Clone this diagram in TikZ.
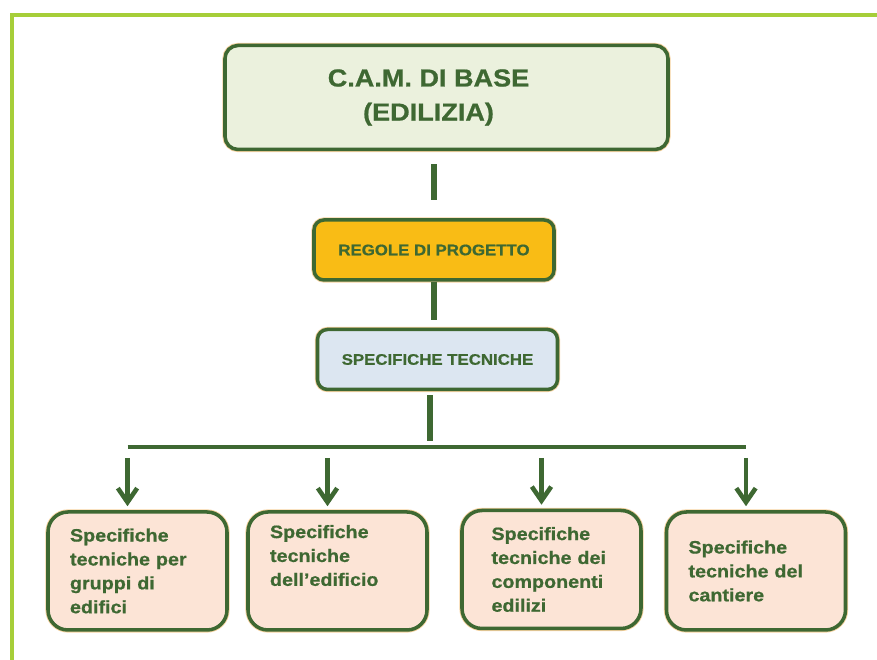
\documentclass[tikz,border=0pt]{standalone}
\usepackage{fontspec}
\setmainfont{Liberation Sans}[FakeStretch=1.1, BoldFeatures={FakeBold=0.8}]
\usepackage{tikz}
\usetikzlibrary{arrows.meta,positioning,calc}

\definecolor{camgreen}{RGB}{62,104,50}
\definecolor{camframe}{RGB}{166,206,57}
\definecolor{camtop}{RGB}{235,241,221}
\definecolor{camorange}{RGB}{249,188,21}
\definecolor{camblue}{RGB}{220,230,241}
\definecolor{campeach}{RGB}{252,228,214}
\definecolor{camhalo}{RGB}{246,210,160}

\begin{document}
\begin{tikzpicture}[
    base/.style={draw=camgreen, line width=2pt, text=camgreen, preaction={draw=camhalo, line width=3pt}},
    cam/.style={base, fill=camtop, rounded corners=0.26cm, minimum width=8.86cm, minimum height=2.08cm, align=center, font=\fontsize{14}{19.4}\selectfont\bfseries},
    rule/.style={base, fill=camorange, rounded corners=0.2cm, minimum width=4.8cm, minimum height=1.2cm, font=\fontsize{8.7}{10}\selectfont\bfseries},
    spec/.style={rule, fill=camblue},
    leaf/.style={base, fill=campeach, rounded corners=0.4cm, minimum width=3.58cm, minimum height=2.36cm, text width=2.7cm, align=left, font=\fontsize{10.2}{13.6}\selectfont\bfseries},
    bar/.style={draw=camgreen, line width=3.4pt},
    bus/.style={draw=camgreen, line width=2.3pt},
    down/.style={draw=camgreen, line width=2.6pt, -{Straight Barb[length=8pt,width=11pt]}}
    ]
    %cadre
    \useasboundingbox (0,0) rectangle (17.54,13.2);
    \draw[camframe, line width=2pt] (0.24,0) -- (0.24,12.9) -- (17.54,12.9);

    \node[cam] (cam)              at (8.93,11.25) {\hspace*{-0.72cm}C.A.M. DI BASE\\\hspace*{-0.72cm}(EDILIZIA)};
    \node[rule] (regole)          at (8.68,8.2)   {REGOLE DI PROGETTO};
    \node[spec] (spec)            at (8.75,6.01)  {SPECIFICHE TECNICHE};
    \coordinate (hub)             at (8.6,4.26);
    \node[leaf] (gruppi)          at (2.75,1.78)  {Specifiche\\tecniche per\\gruppi di\\edifici};
    \node[leaf] (edificio)        at (6.75,1.78)  {Specifiche\\tecniche\\dell’edificio\\\strut};
    \node[leaf,text width=2.4cm] (componenti) at (11.03,1.81) {Specifiche\\tecniche dei\\componenti\\edilizi};
    \node[leaf] (cantiere)        at (15.12,1.78) {Specifiche\\tecniche del\\cantiere};

    \path (cam.south -| regole) edge [bar, shorten <=0.26cm, shorten >=0.36cm] (regole.north);
    \path (regole.south) edge [bar, shorten >=0.16cm] (regole.south |- spec.north);
    \path (spec.south -| hub) edge [bar, shorten <=0.08cm, shorten >=0.12cm] (hub);
    \draw[bus] ([xshift=-2mm]gruppi.north |- hub) -- ([xshift=-2mm]cantiere.north |- hub);
    \foreach \leaf in {gruppi,edificio,componenti,cantiere}
        \path ([xshift=-2mm]\leaf.north |- hub) edge [down, shorten <=0.22cm, shorten >=0.08cm] ([xshift=-2mm]\leaf.north);
\end{tikzpicture}
\end{document}
